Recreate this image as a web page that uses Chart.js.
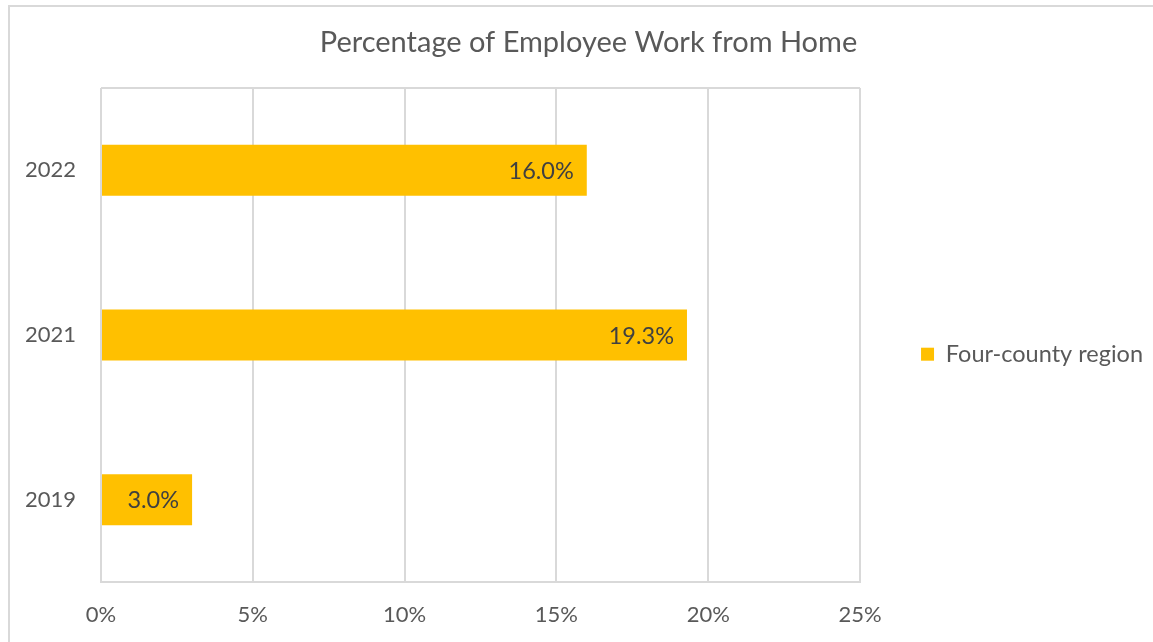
<!DOCTYPE html>
<html>
<head>
<meta charset="utf-8">
<title>Percentage of Employee Work from Home</title>
<script src="https://cdn.jsdelivr.net/npm/chart.js@4/dist/chart.umd.min.js"></script>
<style>
  body { margin: 0; background: #fff; }
  #wrap { position: relative; width: 1153px; height: 642px; overflow: hidden; }
  #frame {
    position: absolute; left: 8px; top: 5px; right: -10px; bottom: -10px;
    border-top: 2px solid #d9d9d9; border-left: 2px solid #d9d9d9;
    pointer-events: none;
  }
</style>
</head>
<body>
<div id="wrap">
  <canvas id="chart" width="1153" height="642"></canvas>
  <div id="frame"></div>
</div>
<script>
// chart data
const years = ['2022', '2021', '2019'];
const wfhShare = [16.0, 19.3, 3.0];
const seriesName = 'Four-county region';
const xTicks = [0, 5, 10, 15, 20, 25];

const FONT = 'Lato, "Open Sans", sans-serif';
const gridColor = '#d9d9d9';

// writes the value at the inner end of each bar
const barValueLabels = {
  id: 'barValueLabels',
  afterDatasetsDraw(chart) {
    const ctx = chart.ctx;
    const meta = chart.getDatasetMeta(0);
    ctx.save();
    ctx.font = '23.5px ' + FONT;
    ctx.fillStyle = '#404040';
    ctx.textAlign = 'right';
    ctx.textBaseline = 'middle';
    meta.data.forEach((bar, i) => {
      const v = chart.data.datasets[0].data[i];
      ctx.fillText(v.toFixed(1) + '%', bar.x - 13, bar.y + 1);
    });
    ctx.restore();
  }
};

new Chart(document.getElementById('chart'), {
  type: 'bar',
  data: {
    labels: years,
    datasets: [{
      label: seriesName,
      data: wfhShare,
      backgroundColor: '#FFC000',
      categoryPercentage: 1,
      barPercentage: 0.31
    }]
  },
  options: {
    indexAxis: 'y',
    responsive: false,
    animation: false,
    layout: { padding: { left: 24, right: 0, top: 0, bottom: 0 } },
    scales: {
      x: {
        min: 0,
        max: 25,
        afterBuildTicks: (axis) => { axis.ticks = xTicks.map((v) => ({ value: v })); },
        afterFit: (axis) => { axis.height = 60; },
        grid: { color: gridColor, lineWidth: 2, drawTicks: false },
        border: { display: true, color: gridColor, width: 2 },
        ticks: {
          padding: 20,
          color: '#595959',
          font: { family: FONT, size: 22 },
          callback: (v) => v + '%'
        }
      },
      y: {
        afterFit: (axis) => { axis.width = 77; },
        grid: {
          drawTicks: false,
          lineWidth: 2,
          color: (c) => (c.index === 0 || c.index === years.length) ? gridColor : 'rgba(0,0,0,0)'
        },
        border: { display: false },
        ticks: {
          padding: 25,
          color: '#595959',
          font: { family: FONT, size: 22 }
        }
      }
    },
    plugins: {
      title: {
        display: true,
        text: 'Percentage of Employee Work from Home',
        color: '#595959',
        font: { family: FONT, size: 29, weight: 'normal' },
        padding: { top: 25.6, bottom: 27.6 }
      },
      legend: {
        position: 'right',
        maxWidth: 400, // the layout would otherwise cap it at a quarter of the width
        title: { display: true, text: '', padding: 26, font: { size: 12 } },
        labels: {
          boxWidth: 13,
          boxHeight: 13,
          padding: 61,
          textAlign: 'left',
          color: '#595959',
          font: { family: FONT, size: 23.5 }
        }
      },
      tooltip: { enabled: false }
    }
  },
  plugins: [barValueLabels]
});
</script>
</body>
</html>
